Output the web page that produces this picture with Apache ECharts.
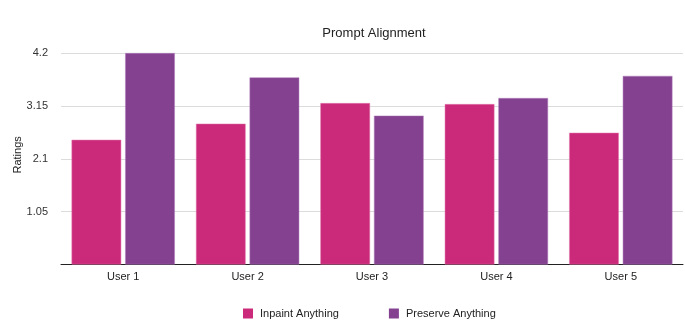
<!DOCTYPE html>
<html><head><meta charset="utf-8">
<script src="https://cdn.jsdelivr.net/npm/echarts@6/dist/echarts.min.js"></script>
<style>html,body{margin:0;padding:0;background:#fff}#c{width:685px;height:325px}</style>
</head><body><div id="c"></div>
<script>
var categories = ["User 1", "User 2", "User 3", "User 4", "User 5"];
var inpaint = [2.48, 2.80, 3.21, 3.19, 2.62];
var preserve = [4.21, 3.72, 2.96, 3.31, 3.75];
var seriesNames = ["Inpaint Anything", "Preserve Anything"];
var yTicks = { min: 0, max: 4.2, interval: 1.05 };

var font = "Liberation Sans, Arial, Helvetica, sans-serif";
var chart = echarts.init(document.getElementById('c'), null, {renderer: 'canvas'});
chart.setOption({
  animation: false,
  title: { text: "Prompt Alignment", left: 374, top: 27, textAlign: 'center', padding: 0,
    textStyle: { fontFamily: font, fontSize: 13, fontWeight: 'normal', color: '#222' } },
  legend: { left: 243, top: 308, padding: 0, itemWidth: 10, itemHeight: 10, itemGap: 50,
    icon: 'rect', itemStyle: { borderWidth: 0 },
    textStyle: { fontFamily: font, fontSize: 11, color: '#222', padding: [0,0,0,2] },
    data: seriesNames },
  grid: { left: 61, right: 2, top: 53.3, bottom: 60.5, containLabel: false, outerBoundsMode: 'none' },
  xAxis: { type: 'category', data: categories,
    axisLine: { lineStyle: { color: '#222', width: 1 } },
    axisTick: { show: false },
    axisLabel: { fontFamily: font, fontSize: 11, color: '#222', margin: 7 } },
  yAxis: { type: 'value', min: yTicks.min, max: yTicks.max, interval: yTicks.interval,
    name: 'Ratings', nameLocation: 'middle', nameGap: 38, nameMoveOverlap: false,
    nameTextStyle: { fontFamily: font, fontSize: 11, color: '#222', padding: [0,0,0,8] },
    axisLine: { show: false }, axisTick: { show: false },
    splitLine: { lineStyle: { color: '#dcdcdc', width: 1 } },
    axisLabel: { fontFamily: font, fontSize: 11, color: '#333', margin: 13, showMinLabel: false } },
  series: [
    { name: seriesNames[0], type: 'bar', data: inpaint, barGap: '8%', barCategoryGap: '17%',
      itemStyle: { color: '#cb2a7b', borderColor: '#e07aac', borderWidth: 0.5 } },
    { name: seriesNames[1], type: 'bar', data: preserve,
      itemStyle: { color: '#83418f', borderColor: '#b07fbb', borderWidth: 0.5 } }
  ]
});
</script></body></html>
